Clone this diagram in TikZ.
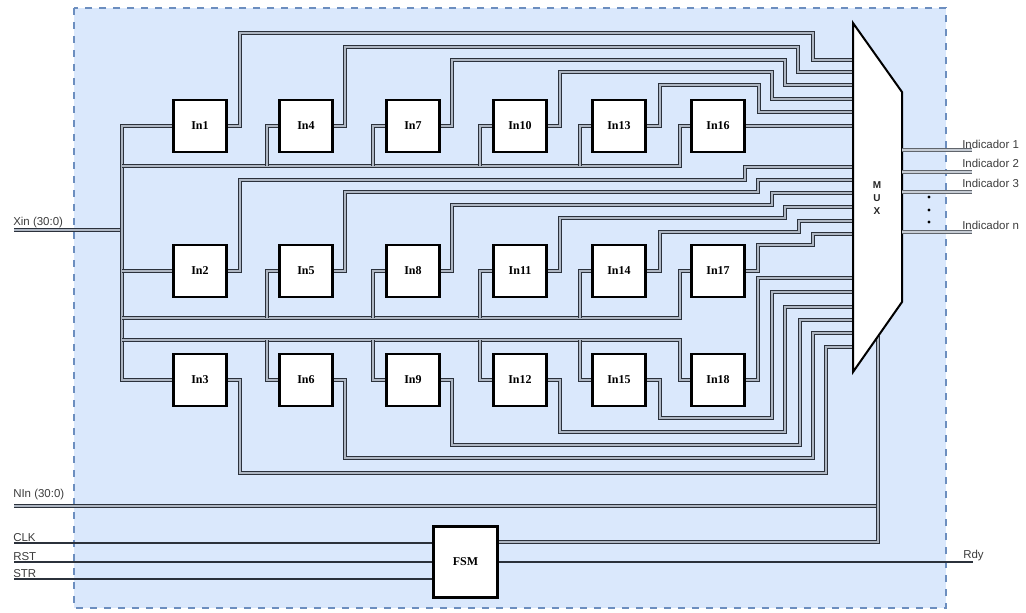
\documentclass[tikz,border=0pt]{standalone}
\usepackage{fontspec}
\setmainfont{Liberation Serif}
\newfontfamily\lsans{Liberation Sans}
\definecolor{bgc}{HTML}{DAE8FC}
\definecolor{bordc}{HTML}{6C8EBF}
\definecolor{wireo}{HTML}{2B313B}
\definecolor{wirei}{HTML}{AEB6C2}
\definecolor{lblc}{HTML}{3C3C3C}
\begin{document}
\begin{tikzpicture}[x=0.75pt,y=-0.75pt,
  bus/.style={draw=wireo,line width=0.65pt,double=wirei,double distance=1.35pt},
  obus/.style={draw=wireo!75,line width=0.6pt,double=wirei!70,double distance=1.2pt},
  sig/.style={draw=wireo,line width=1.1pt},
  blk/.style={draw=black,fill=white,line width=2.2pt,minimum width=40pt,minimum height=39pt,inner sep=0pt,font=\bfseries\fontsize{9}{10}\selectfont},
  lbl/.style={font=\lsans\fontsize{8.6}{10}\selectfont,text=lblc,inner sep=0pt,anchor=base west}
]
\useasboundingbox (0,0) rectangle (1026,612);
\draw[draw=bordc,fill=bgc,line width=1.5pt,dash pattern=on 5.5pt off 5pt] (74,8) rectangle (946,608);

% blocks
\node[blk] (In1)  at (200,126) {In1};
\node[blk] (In4)  at (306,126) {In4};
\node[blk] (In7)  at (413,126) {In7};
\node[blk] (In10) at (520,126) {In10};
\node[blk] (In13) at (619,126) {In13};
\node[blk] (In16) at (718,126) {In16};
\node[blk] (In2)  at (200,271) {In2};
\node[blk] (In5)  at (306,271) {In5};
\node[blk] (In8)  at (413,271) {In8};
\node[blk] (In11) at (520,271) {In11};
\node[blk] (In14) at (619,271) {In14};
\node[blk] (In17) at (718,271) {In17};
\node[blk] (In3)  at (200,380) {In3};
\node[blk] (In6)  at (306,380) {In6};
\node[blk] (In9)  at (413,380) {In9};
\node[blk] (In12) at (520,380) {In12};
\node[blk] (In15) at (619,380) {In15};
\node[blk] (In18) at (718,380) {In18};
\node[blk,minimum width=48pt,minimum height=53pt] (FSM) at (465.5,562) {FSM};

% named points
\coordinate (xin) at (14,230);
\coordinate (nin) at (14,506);
\coordinate (clk) at (14,543);
\coordinate (rst) at (14,562);
\coordinate (str) at (14,579);
\coordinate (rdy) at (973,562);
\coordinate (fo) at (0,542);
\coordinate (muxb) at (878,336);
\coordinate (bxin) at (122,230);
\coordinate (t1) at (122,166);
\coordinate (t2) at (122,318);
\coordinate (t3) at (122,340);

% input bus
\draw[bus] (xin) -- (bxin);
\draw[bus] (In1.west) -| (122,380) -- (In3.west);
\draw[bus] (122,271) -- (In2.west);
\draw[bus] (t1) -| (680,126) -- (In16.west);
\draw[bus] (267,166) |- (In4.west);
\draw[bus] (373,166) |- (In7.west);
\draw[bus] (480,166) |- (In10.west);
\draw[bus] (580,166) |- (In13.west);
\draw[bus] (t2) -| (680,271) -- (In17.west);
\draw[bus] (267,318) |- (In5.west);
\draw[bus] (373,318) |- (In8.west);
\draw[bus] (480,318) |- (In11.west);
\draw[bus] (580,318) |- (In14.west);
\draw[bus] (t3) -| (680,380) -- (In18.west);
\draw[bus] (267,340) |- (In6.west);
\draw[bus] (373,340) |- (In9.west);
\draw[bus] (480,340) |- (In12.west);
\draw[bus] (580,340) |- (In15.west);

% row 1 outputs
\draw[bus] (In1.east)  -| (240,33) -| (813,60) -- (853,60);
\draw[bus] (In4.east)  -| (345,47) -| (798,72) -- (853,72);
\draw[bus] (In7.east)  -| (452,60) -| (785,85) -- (853,85);
\draw[bus] (In10.east) -| (560,72) -| (772,99) -- (853,99);
\draw[bus] (In13.east) -| (660,85) -| (759,112) -- (853,112);
\draw[bus] (In16.east) -- (853,126);
% row 2 outputs
\draw[bus] (In2.east)  -| (240,180) -| (745,167) -- (853,167);
\draw[bus] (In5.east)  -| (345,192) -| (758,180) -- (853,180);
\draw[bus] (In8.east)  -| (452,205) -| (772,193) -- (853,193);
\draw[bus] (In11.east) -| (560,218) -| (785,207) -- (853,207);
\draw[bus] (In14.east) -| (660,232) -| (799,221) -- (853,221);
\draw[bus] (In17.east) -| (758,245) -| (813,234) -- (853,234);
% row 3 outputs
\draw[bus] (In3.east)  -| (240,473) -| (826,347) -- (853,347);
\draw[bus] (In6.east)  -| (345,458) -| (813,333) -- (853,333);
\draw[bus] (In9.east)  -| (452,445) -| (800,320) -- (853,320);
\draw[bus] (In12.east) -| (560,432) -| (785,307) -- (853,307);
\draw[bus] (In15.east) -| (660,418) -| (772,292) -- (853,292);
\draw[bus] (In18.east) -| (758,278) -- (853,278);

% control
\draw[bus] (nin) -- (878,506);
\draw[bus] (FSM.east |- fo) -| (muxb);
\draw[sig] (clk) -- (FSM.west |- clk);
\draw[sig] (rst) -- (FSM.west |- rst);
\draw[sig] (str) -- (FSM.west |- str);
\draw[sig] (FSM.east |- rdy) -- (rdy);

% MUX
\draw[black,line width=1.5pt,fill=white] (853,23) -- (902,92) -- (902,302) -- (853,372) -- cycle;
\node[font=\lsans\bfseries\fontsize{7.5}{10}\selectfont,align=center,inner sep=0pt,text=black!85] (muxl) at (877,198) {M\\U\\X};

% outputs
\draw[obus] (902,150) -- (972,150);
\draw[obus] (902,172) -- (972,172);
\draw[obus] (902,192) -- (972,192);
\draw[obus] (902,232) -- (972,232);
\fill[black] (929,197) circle (1.3pt);
\fill[black] (929,210) circle (1.3pt);
\fill[black] (929,222) circle (1.3pt);

% labels
\node[lbl] (l1) at (962,148) {Indicador 1};
\node[lbl] (l2) at (962,167) {Indicador 2};
\node[lbl] (l3) at (962,187) {Indicador 3};
\node[lbl] (ln) at (962,229) {Indicador n};
\node[lbl] (lx) at (13,225) {Xin (30:0)};
\node[lbl] (lnin) at (13,497) {NIn (30:0)};
\node[lbl] (lc) at (13,541) {CLK};
\node[lbl] (lr) at (13,560) {RST};
\node[lbl] (ls) at (13,577) {STR};
\node[lbl] (lrdy) at (963,558) {Rdy};
\end{tikzpicture}
\end{document}
